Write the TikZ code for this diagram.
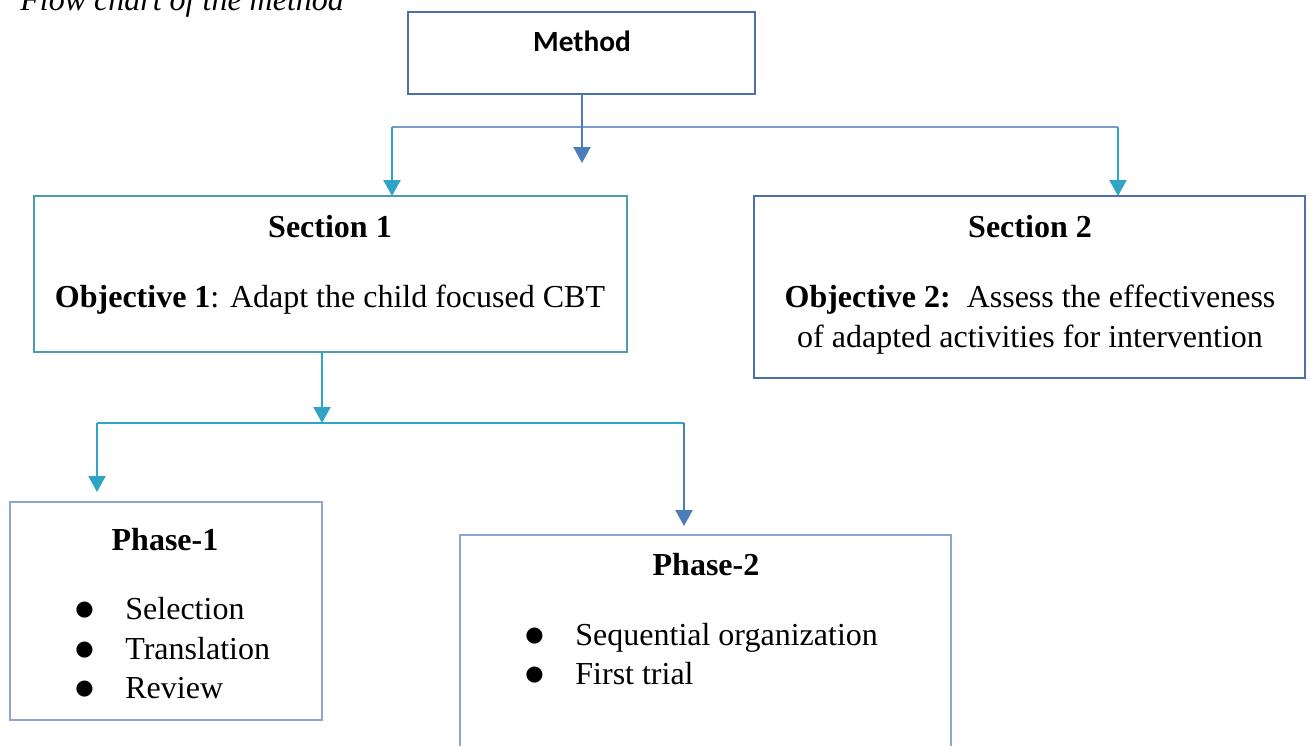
\documentclass[tikz,border=0pt]{standalone}
\usepackage{fontspec}
\setmainfont{Liberation Serif}
\newfontfamily\calibri{Carlito}
\newfontfamily\dejavu{DejaVu Sans}
\usepackage{xcolor}
\usepackage{tikz}
\usetikzlibrary{positioning, arrows.meta}
\definecolor{lineblue}{HTML}{4A7EBB}
\definecolor{lineteal}{HTML}{2FA4C4}
\definecolor{boxblue}{HTML}{4F6FA8}
\definecolor{boxteal}{HTML}{4A9CAE}
\definecolor{boxlight}{HTML}{8DA6CB}
\definecolor{hlineblue}{HTML}{7A9CCC}
\newcommand{\bul}{\makebox[25pt][l]{\raisebox{1.8pt}{\dejavu\fontsize{10.5}{12}\selectfont ●}}}

\begin{document}
\begin{tikzpicture}[
    x=0.5pt, y=-0.5pt,
    box/.style={rectangle, draw=boxblue, line width=0.7pt, inner sep=0pt, outer sep=0pt},
    txt/.style={inner sep=0pt, font=\fontsize{16}{20}\selectfont},
    head/.style={txt, font=\fontsize{16}{20}\selectfont\bfseries},
    blueline/.style={draw=lineblue, line width=1.1pt},
    tealline/.style={draw=lineteal, line width=1.1pt},
    bluearrow/.style={blueline, -{Triangle[width=8.5pt, length=8pt]}},
    tealarrow/.style={tealline, -{Triangle[width=8.5pt, length=8pt]}}
]
    \useasboundingbox (0,0) rectangle (1310,745);
    \clip (0,0) rectangle (1310,745);

    % Caption (cut at the top)
    \node[txt, anchor=base west, font=\fontsize{16}{20}\selectfont\itshape] (caption) at (20,10) {Flow chart of the method};

    % Boxes
    \node[box, minimum width=173.5pt, minimum height=41pt] (method) at (581.5,53) {};
    \node[box, draw=boxteal, minimum width=296.5pt, minimum height=78pt] (sec1) at (330.5,274) {};
    \node[box, minimum width=275.5pt, minimum height=91pt] (sec2) at (1029.5,287) {};
    \node[box, draw=boxlight, minimum width=156pt, minimum height=109pt] (phase1) at (166,611) {};
    \node[box, draw=boxlight, minimum width=245.5pt, minimum height=132.5pt] (phase2) at (705.5,667.5) {};

    % Texts
    \node[inner sep=0pt, font=\calibri\fontsize{14.67}{18}\selectfont\bfseries] (methodtxt) at (582,41) {Method};
    \node[head, anchor=base] (sec1title) at (330,237) {Section 1};
    \node[txt, anchor=base] (obj1) at (330,307) {\textbf{Objective 1}: Adapt the child focused CBT};
    \node[head, anchor=base] (sec2title) at (1030,237) {Section 2};
    \node[txt, anchor=base] (obj2a) at (1030,307) {\textbf{Objective 2:}\ \ Assess the effectiveness};
    \node[txt, anchor=base] (obj2b) at (1030,347) {of adapted activities for intervention};
    \node[head, anchor=base] (ph1title) at (165,550) {Phase-1};
    \node[txt, anchor=base west] (ph1a) at (75,619) {\bul Selection};
    \node[txt, anchor=base west] (ph1b) at (75,659) {\bul Translation};
    \node[txt, anchor=base west] (ph1c) at (75,698) {\bul Review};
    \node[head, anchor=base] (ph2title) at (706,575) {Phase-2};
    \node[txt, anchor=base west] (ph2a) at (525,645) {\bul Sequential organization};
    \node[txt, anchor=base west] (ph2b) at (525,684) {\bul First trial};

    % Junction points
    \coordinate (jtop) at (582,127);
    \coordinate (jtopl) at (392,127);
    \coordinate (jtopr) at (1118,127);
    \coordinate (tipmid) at (582,163);
    \coordinate (jmid) at (322,423);
    \coordinate (jmidl) at (97,423);
    \coordinate (jmidr) at (684,423);
    \coordinate (tipl) at (97,492);
    \coordinate (tipr) at (684,526);

    % Connectors from Method
    \draw[draw=hlineblue, line width=1.1pt] (jtopl) -- (jtopr);
    \draw[bluearrow] (method.south -| jtop) -- (tipmid);
    \draw[tealarrow] (jtopl) -- (jtopl |- sec1.north);
    \draw[tealarrow] (jtopr) -- (jtopr |- sec2.north);

    % Connectors from Section 1
    \draw[tealarrow] (sec1.south -| jmid) -- (jmid);
    \draw[tealline] (jmidl) -- (jmidr);
    \draw[tealarrow] (jmidl) -- (tipl);
    \draw[bluearrow] (jmidr) -- (tipr);

\end{tikzpicture}
\end{document}
